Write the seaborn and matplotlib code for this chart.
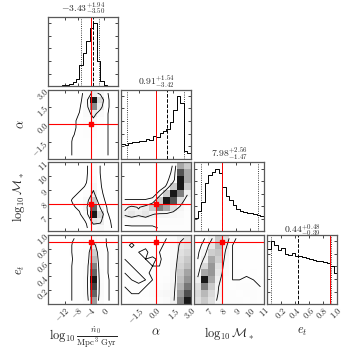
import numpy as np
import matplotlib
matplotlib.use("Agg")
import matplotlib.pyplot as plt
from matplotlib.colors import ListedColormap
import seaborn as sns

# ---------------- data ----------------
labels = [r"$\log_{10}\frac{\dot{n}_0}{\mathrm{Mpc}^3\ \mathrm{Gyr}}$",
          r"$\alpha$", r"$\log_{10}\mathcal{M}_*$", r"$e_t$"]
ranges = [(-17.2, 4.3), (-3.0, 3.0), (6.0, 11.0), (0.0, 1.0)]
truths = [-4.0, 0.0, 8.0, 0.9]
medians = [-3.43, 0.91, 7.98, 0.44]
err_hi = [1.94, 1.54, 2.56, 0.48]
err_lo = [3.50, 3.42, 1.47, 0.39]

tick_vals = [[-12, -8, -4, 0], [-1.5, 0.0, 1.5, 3.0], [7, 8, 9, 10, 11],
             [0.2, 0.4, 0.6, 0.8, 1.0]]
tick_text = [["-12", "-8", "-4", "0"], ["-1.5", "0.0", "1.5", "3.0"],
             ["7", "8", "9", "10", "11"], ["0.2", "0.4", "0.6", "0.8", "1.0"]]

# 1D marginals (20 bins over each range)
n0_hist = [0.004, 0.006, 0.008, 0.01, 0.015, 0.02, 0.03, 0.06, 0.12, 0.33,
           0.52, 0.72, 0.92, 1.0, 0.4, 0.08, 0.02, 0.008, 0.004, 0.002]
alpha_hist = [0.23, 0.22, 0.25, 0.26, 0.27, 0.28, 0.29, 0.32, 0.30, 0.36,
              0.34, 0.41, 0.44, 0.48, 0.58, 0.78, 1.0, 0.88, 0.12, 0.09]
mstar_hist = [0.2, 0.3, 0.42, 0.7, 0.82, 0.86, 0.91, 0.84, 0.64, 0.52,
              0.45, 0.38, 0.33, 0.3, 0.28, 0.27, 0.26, 0.25, 0.24, 0.22]
et_hist = [0.8, 0.91, 0.86, 0.78, 0.81, 0.73, 0.71, 0.74, 0.7, 0.69,
           0.68, 0.67, 0.65, 0.64, 0.63, 0.62, 0.61, 0.6, 0.55, 0.45]

# 2D panels, 10x10 cells, first row = top of panel
alpha_vs_n0 = [
    [0, 0, 0, 0, 0, 1.0, 3.0, 2.0, 0.5, 0],
    [0, 0, 0, 0, 0, 1.5, 8.0, 4.0, 0.6, 0],
    [0, 0, 0, 0, 0.3, 1.5, 6.0, 3.0, 0.6, 0],
    [0, 0, 0, 0, 0.5, 1.5, 3.0, 1.5, 0.5, 0],
    [0, 0, 0, 0.3, 0.6, 1.2, 2.0, 1.0, 0.5, 0],
    [0, 0, 0, 0.3, 0.6, 1.0, 1.3, 0.8, 0.5, 0],
    [0, 0, 0, 0.4, 0.6, 0.9, 1.1, 0.7, 0.5, 0],
    [0, 0, 0, 0.5, 0.6, 0.8, 0.9, 0.6, 0.5, 0],
    [0, 0, 0, 0.5, 0.6, 0.7, 0.8, 0.6, 0.5, 0],
    [0, 0, 0, 0.5, 0.6, 0.7, 0.7, 0.6, 0.5, 0],
]
mstar_vs_n0 = [
    [0, 0, 0, 0, 0, 0.3, 1.0, 0.4, 0, 0],
    [0, 0, 0, 0, 0, 0.3, 1.1, 0.4, 0, 0],
    [0, 0, 0, 0, 0, 0.35, 1.3, 0.45, 0, 0],
    [0, 0, 0, 0, 0.2, 0.5, 1.8, 0.5, 0, 0],
    [0, 0, 0, 0.2, 0.5, 1.0, 2.5, 0.6, 0.1, 0],
    [0, 0, 0, 0.5, 0.7, 1.5, 4.0, 0.8, 0.2, 0],
    [0, 0, 0, 0.3, 0.6, 1.8, 6.0, 2.0, 0.3, 0],
    [0, 0, 0, 0, 0.3, 1.2, 7.0, 3.5, 0.5, 0],
    [0, 0, 0, 0, 0.1, 0.5, 3.0, 2.5, 0.7, 0.1],
    [0, 0, 0, 0, 0, 0.3, 1.2, 1.5, 0.8, 0.2],
]
mstar_vs_alpha = [
    [0, 0, 0, 0, 0, 0, 0.2, 0.5, 3.0, 2.5],
    [0, 0, 0, 0, 0, 0, 0.2, 0.6, 4.0, 3.0],
    [0, 0, 0, 0, 0, 0, 0.3, 0.8, 4.5, 3.0],
    [0, 0, 0, 0, 0, 0.2, 0.5, 2.5, 4.5, 2.5],
    [0.1, 0.1, 0.1, 0.1, 0.2, 0.6, 2.5, 4.5, 3.5, 1.5],
    [0.5, 0.5, 0.5, 0.5, 0.6, 2.5, 4.5, 4.0, 2.0, 0.8],
    [1.2, 1.5, 1.3, 1.6, 2.5, 3.5, 3.0, 2.0, 1.2, 0.6],
    [1.5, 1.8, 1.5, 1.8, 1.4, 1.2, 1.2, 1.0, 0.8, 0.5],
    [0.7, 0.8, 0.8, 0.8, 0.8, 0.7, 0.7, 0.7, 0.6, 0.5],
    [0.3, 0.3, 0.3, 0.3, 0.3, 0.5, 0.5, 0.5, 0.5, 0.5],
]
et_vs_n0 = [
    [0, 0, 0, 0.4, 0.6, 0.8, 1.2, 0.7, 0.4, 0],
    [0, 0, 0, 0.5, 0.6, 0.9, 2.5, 0.8, 0.4, 0],
    [0, 0, 0, 0.5, 0.7, 1.0, 3.5, 0.9, 0.5, 0],
    [0, 0, 0, 0.45, 0.7, 1.0, 4.0, 1.0, 0.5, 0],
    [0, 0, 0, 0.5, 0.7, 1.1, 5.0, 1.0, 0.5, 0],
    [0, 0, 0, 0.5, 0.7, 1.1, 5.5, 1.1, 0.5, 0],
    [0, 0, 0, 0.5, 0.7, 1.2, 6.5, 1.1, 0.6, 0],
    [0, 0, 0, 0.5, 0.7, 1.2, 6.0, 1.2, 0.6, 0],
    [0, 0, 0, 0.5, 0.7, 1.2, 5.5, 1.2, 0.6, 0],
    [0, 0, 0, 0.5, 0.7, 1.1, 4.5, 1.1, 0.6, 0],
]
et_vs_alpha = [
    [0.35, 0.4, 0.45, 0.4, 0.45, 0.4, 0.5, 0.9, 1.6, 2.0],
    [0.4, 0.55, 0.4, 0.45, 0.5, 0.45, 0.55, 1.0, 2.0, 2.2],
    [0.45, 0.4, 0.5, 0.55, 0.4, 0.5, 0.6, 1.0, 2.2, 2.5],
    [0.5, 0.45, 0.4, 0.5, 0.55, 0.45, 0.65, 1.1, 2.4, 2.8],
    [0.55, 0.5, 0.45, 0.4, 0.5, 0.5, 0.6, 1.2, 2.6, 3.0],
    [0.5, 0.55, 0.5, 0.45, 0.55, 0.55, 0.6, 1.3, 2.8, 3.4],
    [0.45, 0.5, 0.55, 0.5, 0.5, 0.6, 0.7, 1.3, 3.0, 3.6],
    [0.5, 0.5, 0.45, 0.5, 0.6, 0.7, 0.9, 1.4, 3.2, 4.0],
    [0.55, 0.5, 0.5, 0.6, 0.8, 1.0, 1.2, 1.5, 3.5, 4.5],
    [0.5, 0.55, 0.6, 0.5, 0.6, 0.7, 0.9, 1.6, 3.8, 5.0],
]
et_vs_mstar = [
    [0.2, 0.5, 1.2, 2.5, 2.0, 0.6, 0.4, 0.35, 0.3, 0.3],
    [0.3, 0.7, 1.8, 2.8, 1.5, 0.5, 0.4, 0.35, 0.4, 0.3],
    [0.4, 1.0, 2.4, 2.6, 1.2, 0.5, 0.45, 0.4, 0.35, 0.35],
    [0.5, 1.5, 3.0, 2.4, 1.0, 0.5, 0.4, 0.45, 0.4, 0.35],
    [0.7, 2.2, 3.2, 2.0, 0.9, 0.5, 0.45, 0.4, 0.45, 0.4],
    [1.0, 3.0, 3.2, 1.8, 0.8, 0.5, 0.5, 0.45, 0.5, 0.45],
    [1.5, 4.5, 3.0, 1.5, 0.7, 0.5, 0.5, 0.55, 0.5, 0.5],
    [2.0, 3.5, 2.5, 1.3, 0.7, 0.55, 0.6, 0.6, 0.55, 0.5],
    [2.2, 2.8, 2.2, 1.2, 0.7, 0.6, 0.55, 0.6, 0.6, 0.55],
    [2.0, 2.5, 2.0, 1.0, 0.7, 0.6, 0.6, 0.55, 0.6, 0.5],
]

hists = [n0_hist, alpha_hist, mstar_hist, et_hist]
# (row, col) -> (grid, contour levels)
panels = {
    (1, 0): (alpha_vs_n0, [0.45, 2.4]),
    (2, 0): (mstar_vs_n0, [0.42, 2.2]),
    (2, 1): (mstar_vs_alpha, [0.45, 1.35]),
    (3, 0): (et_vs_n0, [0.45, 2.0]),
    (3, 1): (et_vs_alpha, [0.5, 1.8]),
    (3, 2): (et_vs_mstar, [0.5, 1.3]),
}

# light grey ramp: most of the density stays pale, only peaks go dark
soft_greys = ListedColormap(plt.cm.Greys(np.linspace(0, 1, 256) ** 1.8))

# ---------------- style ----------------
sns.set_style("ticks")
plt.rcParams["font.family"] = ["DejaVu Serif"]
plt.rcParams["mathtext.fontset"] = "cm"
plt.rcParams["xtick.direction"] = "in"
plt.rcParams["ytick.direction"] = "in"
plt.rcParams["axes.edgecolor"] = "0.35"
plt.rcParams["axes.linewidth"] = 0.9

fig, axes = plt.subplots(4, 4, figsize=(3.54, 3.54), dpi=100)
fig.subplots_adjust(left=0.136, right=0.952, bottom=0.141, top=0.952,
                    wspace=0.05, hspace=0.05)

for i in range(4):
    for j in range(4):
        ax = axes[i, j]
        if j > i:
            ax.set_visible(False)
            continue

        if i == j:
            vals = np.array(hists[i])
            edges = np.linspace(*ranges[i], len(vals) + 1)
            cents = 0.5 * (edges[1:] + edges[:-1])
            sns.histplot(x=list(cents), weights=list(vals), bins=list(edges),
                         element="step", fill=False, color="k", linewidth=0.7, ax=ax)
            ax.set_ylim(0, 1.1 * vals.max())
            ax.axvline(medians[i], color="k", ls="--", lw=0.7)
            ax.axvline(medians[i] - err_lo[i], color="k", ls=":", lw=0.6)
            ax.axvline(medians[i] + err_hi[i], color="k", ls=":", lw=0.6)
            ax.axvline(truths[i], color="red", lw=0.7)
            ax.set_title(r"$%.2f^{+%.2f}_{-%.2f}$" % (medians[i], err_hi[i], err_lo[i]),
                         fontsize=7, pad=1)
            ax.set_yticks(np.linspace(0, vals.max(), 6)[1:])
            ax.set_yticklabels([])
            ax.set_ylabel("")
        else:
            grid, levels = panels[(i, j)]
            z = np.array(grid)[::-1]  # bottom row first
            xe = np.linspace(*ranges[j], z.shape[1] + 1)
            ye = np.linspace(*ranges[i], z.shape[0] + 1)
            xc = 0.5 * (xe[1:] + xe[:-1])
            yc = 0.5 * (ye[1:] + ye[:-1])
            X, Y = np.meshgrid(xc, yc)
            sns.histplot(x=list(X.ravel()), y=list(Y.ravel()), weights=list(z.ravel()),
                         bins=(list(xe), list(ye)), cmap=soft_greys,
                         vmin=0, vmax=z.max() * 1.05, ax=ax)
            ax.contour(X, Y, z, levels=levels, colors="k", linewidths=0.6)
            ax.axvline(truths[j], color="red", lw=0.8)
            ax.axhline(truths[i], color="red", lw=0.8)
            ax.plot(truths[j], truths[i], "s", color="red", ms=3)
            ax.set_ylim(*ranges[i])
            ax.set_yticks(tick_vals[i])
            if j == 0:
                ax.set_yticklabels(["$%s$" % t for t in tick_text[i]], fontsize=6,
                                   rotation=45, ha="right", va="center",
                                   rotation_mode="anchor")
                ax.set_ylabel(labels[i], fontsize=9)
                ax.yaxis.set_label_coords(-0.3, 0.5)
            else:
                ax.set_yticklabels([])
                ax.set_ylabel("")

        ax.set_xlim(*ranges[j])
        ax.set_xticks(tick_vals[j])
        ax.tick_params(top=True, right=True, length=2, width=0.6, pad=1)
        if i == 3:
            ax.set_xticklabels(["$%s$" % t for t in tick_text[j]], fontsize=6,
                               rotation=45, ha="right", va="top",
                               rotation_mode="anchor")
            ax.set_xlabel(labels[j], fontsize=9)
            ax.xaxis.set_label_coords(0.5, -0.3)
        else:
            ax.set_xticklabels([])
            ax.set_xlabel("")

fig.savefig("out.png", dpi=100)
